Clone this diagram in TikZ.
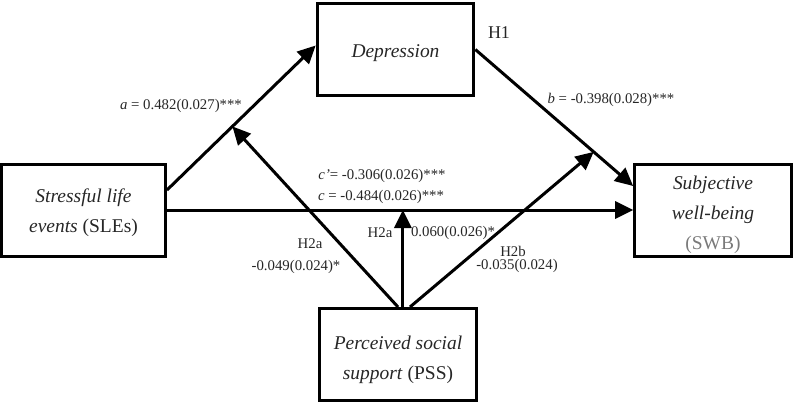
\documentclass[tikz,border=0pt]{standalone}
\usepackage{fontspec}
\setmainfont{Liberation Serif}
\usetikzlibrary{arrows.meta,calc}
\definecolor{txt}{HTML}{262626}
\definecolor{swbgray}{HTML}{7A7A7A}
\newcommand{\topgap}[1]{\rule{0pt}{#1}}
\tikzset{
    box/.style={draw, line width=2.25pt, minimum width=#1, minimum height=69pt,
        inner sep=0pt, align=center, text=txt,
        font=\fontsize{14.6}{22.5}\selectfont},
    box/.default=117.5pt,
    link/.style={line width=2.25pt, -{Triangle[length=13.5pt,width=12.75pt]}},
    lab/.style={inner sep=0pt, text=txt, font=\fontsize{11.1}{13}\selectfont}
}

\begin{document}
\begin{tikzpicture}[x=0.75pt,y=-0.75pt]
\useasboundingbox (0,0) rectangle (794,404);

% boxes
\node[box=123pt] (sle) at (83.5,210) {\topgap{14.5pt}\textit{Stressful life}\\\textit{events} (SLEs)};
\node[box] (dep) at (395.5,49.5) {\topgap{14.5pt}\textit{Depression}};
\node[box] (swb) at (713,210) {\topgap{18pt}\textit{Subjective}\\\textit{well-being}\\\textcolor{swbgray}{(SWB)}};
\node[box] (pss) at (398,354.5) {\topgap{18pt}\textit{Perceived social}\\\textit{support} (PSS)};

% paths a, b, c
\draw[link] ([yshift=15pt]sle.east) -- coordinate[pos=0.44] (amid) ([yshift=3pt]dep.west);
\draw[link] (dep.east) -- coordinate[pos=0.75] (bmid) ([yshift=18pt]swb.west);
\draw[link] (sle.east) -- coordinate[pos=0.506] (cmid) (swb.west);

% moderation by PSS
\draw[link] (pss.north) -- (amid);
\draw[link] (cmid |- pss.north) -- (cmid);
\draw[link] ([xshift=9pt]pss.north) -- (bmid);

% labels
\node[lab] (la) at (181,106) {\textit{a} = 0.482(0.027)***};
\node[lab, font=\fontsize{13.5}{16}\selectfont] (h1) at (499,33) {H1};
\node[lab] (lb) at (611,100) {\textit{b} = -0.398(0.028)***};
\node[lab] (lcp) at (382,176) {\textit{c’}= -0.306(0.026)***};
\node[lab] (lc) at (381,197) {\textit{c} = -0.484(0.026)***};
\node[lab] (h2a) at (310,244) {H2a};
\node[lab] (wa) at (296,267) {-0.049(0.024)*};
\node[lab] (h2am) at (380,233) {H2a};
\node[lab] (wm) at (453,233) {0.060(0.026)*};
\node[lab] (h2b) at (513,251) {H2b};
\node[lab] (wb) at (517,266) {-0.035(0.024)};
\end{tikzpicture}
\end{document}
